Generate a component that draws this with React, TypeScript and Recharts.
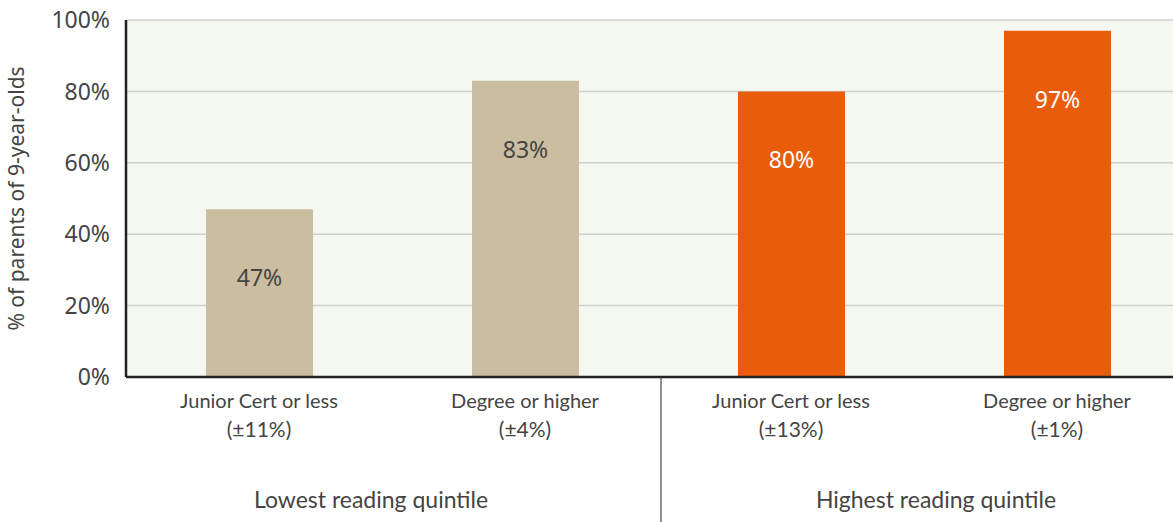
import { BarChart, Bar, XAxis, YAxis, CartesianGrid, LabelList, Cell } from "recharts";

const categories = ["Junior Cert or less", "Degree or higher", "Junior Cert or less", "Degree or higher"];
const margins = ["(±11%)", "(±4%)", "(±13%)", "(±1%)"];
const groups = ["Lowest reading quintile", "Lowest reading quintile", "Highest reading quintile", "Highest reading quintile"];
const values = [47, 83, 80, 97];
const yTicks = [0, 20, 40, 60, 80, 100];

const barColors = ["#cbbd9f", "#cbbd9f", "#e95c0c", "#e95c0c"];
const labelColors = ["#444", "#444", "#fff", "#fff"];

const data = categories.map((c, i) => ({
  name: c,
  margin: margins[i],
  group: groups[i],
  value: values[i],
}));

// category label + margin of error, plus group label and divider under first/third bars
const CategoryTick = (props: any) => {
  const { x, y, index } = props;
  const top = y - 8; // tick y sits a little below the axis line
  const half = 133;
  return (
    <g>
      <text x={x} y={top + 31} textAnchor="middle" fill="#444" fontSize={20} fontFamily="Lato">
        {categories[index]}
      </text>
      <text x={x} y={top + 60} textAnchor="middle" fill="#444" fontSize={21} fontFamily="Lato">
        {margins[index]}
      </text>
      {index === 0 && (
        <text x={x + half - 21} y={top + 131} textAnchor="middle" fill="#444" fontSize={23} fontFamily="Lato">
          {groups[0]}
        </text>
      )}
      {index === 2 && (
        <g>
          <line x1={x - half + 3} x2={x - half + 3} y1={top} y2={top + 150} stroke="#444" strokeWidth={1.2} />
          <text x={x + half + 12} y={top + 131} textAnchor="middle" fill="#444" fontSize={23} fontFamily="Lato">
            {groups[2]}
          </text>
        </g>
      )}
    </g>
  );
};

const ValueLabel = (props: any) => {
  const { x, y, width, index, value } = props;
  return (
    <text
      x={x + width / 2}
      y={y + 68}
      textAnchor="middle"
      dominantBaseline="central"
      fill={labelColors[index]}
      fontSize={23}
      fontFamily="Noto Sans"
    >
      {value}%
    </text>
  );
};

export default function App() {
  return (
    <div style={{ position: "absolute", left: 0, top: 0, width: 1173, height: 522, overflow: "hidden", background: "#fff" }}>
      <BarChart width={1200} height={522} data={data} margin={{ top: 20, right: 10, bottom: 0, left: 0 }}>
        <CartesianGrid vertical={false} stroke="#cfcfcf" strokeWidth={1.5} fill="#f5f8f1" />
        <XAxis
          dataKey="name"
          height={145}
          tickLine={false}
          axisLine={{ stroke: "#222", strokeWidth: 2.5 }}
          tick={<CategoryTick />}
          interval={0}
          allowDuplicatedCategory
        />
        <YAxis
          domain={[0, 100]}
          ticks={yTicks}
          width={126}
          tickLine={false}
          axisLine={{ stroke: "#222", strokeWidth: 2.5 }}
          tickFormatter={(v) => `${v}%`}
          tick={{ fill: "#444", fontSize: 23, fontFamily: "Noto Sans" }}
          tickMargin={10}
          label={{
            value: "% of parents of 9-year-olds",
            angle: -90,
            position: "insideLeft",
            dx: 12,
            style: { textAnchor: "middle", fill: "#444", fontSize: 21, fontFamily: "Noto Sans" },
          }}
        />
        <Bar dataKey="value" barSize={107} isAnimationActive={false}>
          {data.map((d, i) => (
            <Cell key={i} fill={barColors[i]} />
          ))}
          <LabelList dataKey="value" content={<ValueLabel />} />
        </Bar>
      </BarChart>
    </div>
  );
}
